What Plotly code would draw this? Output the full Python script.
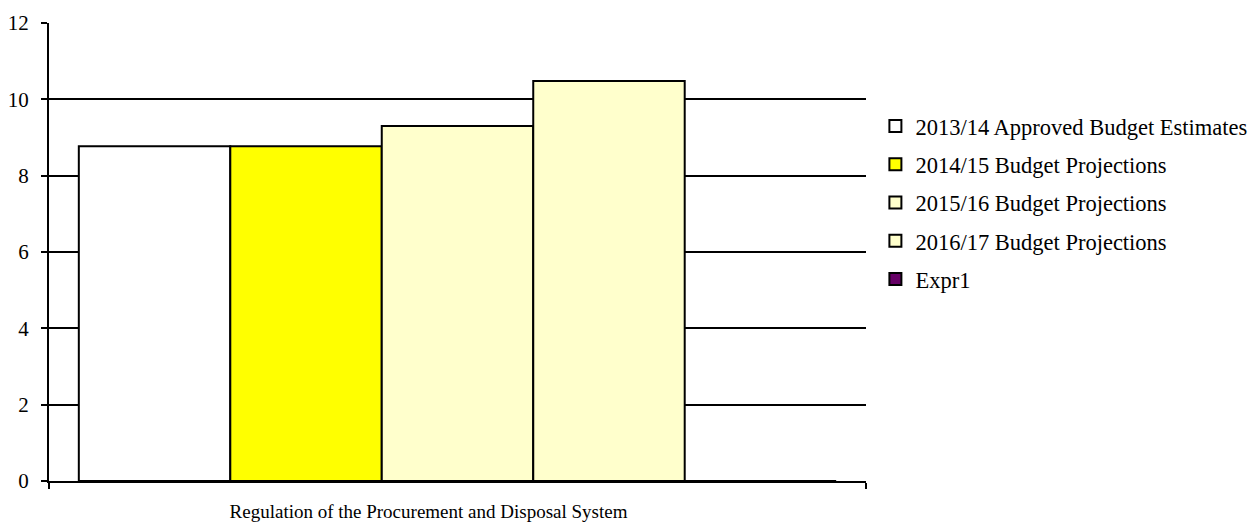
import plotly.graph_objects as go

categories = ["Regulation of the Procurement and Disposal System"]
series_names = [
    "2013/14 Approved Budget Estimates",
    "2014/15 Budget Projections",
    "2015/16 Budget Projections",
    "2016/17 Budget Projections",
    "Expr1",
]
series_values = [
    [8.77],
    [8.77],
    [9.30],
    [10.48],
    [0],
]
series_colors = ["#FFFFFF", "#FFFF00", "#FFFFCC", "#FFFFCC", "#660066"]
y_ticks = [0, 2, 4, 6, 8, 10, 12]

FONT = "Liberation Serif, Times New Roman, serif"

fig = go.Figure()
for i, (name, vals, col) in enumerate(zip(series_names, series_values, series_colors)):
    fig.add_trace(go.Bar(
        x=categories, y=vals, name=name,
        marker=dict(color=col, line=dict(color="#000000", width=2)),
        legendgroup=f"g{i}",
    ))

fig.update_layout(
    width=1259, height=525,
    barmode="group",
    bargap=0.073,
    bargroupgap=0,
    plot_bgcolor="#FFFFFF",
    paper_bgcolor="#FFFFFF",
    margin=dict(l=49, r=393, t=23, b=44, autoexpand=False),
    font=dict(family=FONT, size=20, color="#000000"),
    showlegend=True,
    legend=dict(
        x=1.0115, xanchor="left", y=0.607, yanchor="middle",
        font=dict(family=FONT, size=22.5, color="#000000"),
        traceorder="grouped",
        tracegroupgap=6,
        bgcolor="rgba(0,0,0,0)",
        itemclick=False,
    ),
    xaxis=dict(
        type="category",
        tickson="boundaries",
        ticks="outside", ticklen=6, tickwidth=2, tickcolor="#000000",
        showline=True, linecolor="#000000", linewidth=2,
        showgrid=False,
        automargin=False,
        tickfont=dict(family=FONT, size=19, color="#000000"),
        ticklabelstandoff=12,
        ticklabelshift=-29,
        fixedrange=True,
    ),
    yaxis=dict(
        range=[0, 12],
        tickvals=y_ticks,
        ticks="outside", ticklen=6, tickwidth=2, tickcolor="#000000",
        showline=True, linecolor="#000000", linewidth=2,
        showgrid=True, gridcolor="#000000", gridwidth=2,
        zeroline=False,
        automargin=False,
        tickfont=dict(family=FONT, size=21, color="#000000"),
        ticklabelstandoff=8,
        fixedrange=True,
    ),
)

fig.write_html("out.html")
